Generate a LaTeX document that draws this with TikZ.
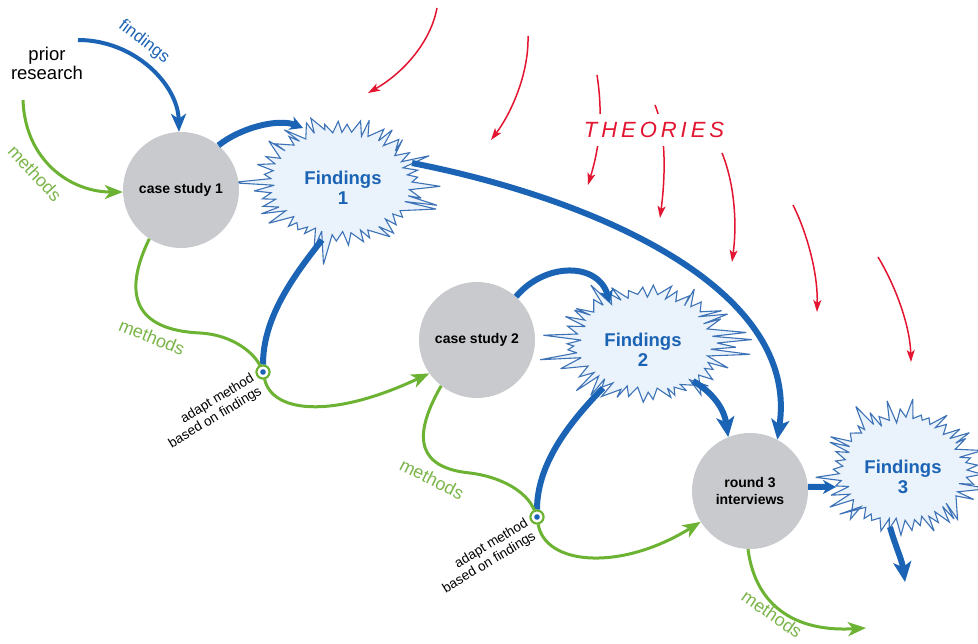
\documentclass[tikz,border=0pt]{standalone}
\usepackage{fontspec}
\setmainfont{Liberation Sans}
\usetikzlibrary{arrows.meta}

\definecolor{flowblue}{HTML}{1B63B4}
\definecolor{burstline}{HTML}{3D72B6}
\definecolor{burstfill}{HTML}{EAF3FB}
\definecolor{methgreen}{HTML}{6CB233}
\definecolor{labgreen}{HTML}{7BB54A}
\definecolor{theored}{HTML}{E2142F}
\definecolor{stagegray}{HTML}{C8CACD}

% spiky "findings" cloud: centre x, centre y, x radius, y radius, seed
\newcommand\drawburst[5]{%
  \pgfmathsetseed{#5}%
  \begin{scope}[shift={(#1,#2)}, xscale=#3/#4]
    \filldraw[burst] (0:#4)
      \foreach \k in {1,...,89} {
        -- ({\k*4+1.6*(rnd-0.5)}:{#4+mod(\k,2)*(3+30*rnd*rnd)-(1-mod(\k,2))*6*rnd}) }
      -- cycle;
  \end{scope}}

\tikzset{
  stage/.style={circle, fill=stagegray, minimum size=116pt, inner sep=0pt, align=center,
    font=\fontsize{14}{17}\selectfont\bfseries},
  findtext/.style={align=center, text=flowblue, font=\fontsize{18.5}{20}\selectfont\bfseries},
  burst/.style={fill=burstfill, draw=burstline, line width=1.1pt, line join=miter, miter limit=4},
  bigline/.style={draw=flowblue, line width=6pt},
  bigflow/.style={bigline, -{Stealth[length=20pt,width=18pt,inset=5pt]}},
  smallflow/.style={bigline, -{Stealth[length=13pt,width=14pt,inset=4pt]}},
  methline/.style={draw=methgreen, line width=3pt},
  methflow/.style={methline, -{Stealth[length=18pt,width=14pt,inset=5pt]}},
  theoflow/.style={draw=theored, line width=1.5pt, -{Stealth[length=12pt,width=8pt,inset=3pt]}},
  methlabel/.style={text=labgreen, font=\fontsize{18}{18}\selectfont, inner sep=0pt},
  adaptmark/.style={circle, draw=methgreen, line width=2pt, fill=white, minimum size=13pt, inner sep=0pt},
  adapttext/.style={align=right, font=\fontsize{13.5}{15}\selectfont, inner sep=0pt, rotate=31, anchor=east},
}

\begin{document}
\begin{tikzpicture}[x=1pt, y=-1pt]
\useasboundingbox (0,0) rectangle (978,644);

% findings clouds
\drawburst{340}{182}{72}{54}{7}
\drawburst{645}{343}{72}{50}{23}
\drawburst{903}{470}{64}{53}{41}

% stages
\node[stage] (cs1) at (181,190) {case study 1};
\node[stage] (cs2) at (477,340) {case study 2};
\node[stage] (r3) at (750,491) {round 3\\interviews};

\node[findtext] (F1) at (343,188) {Findings\\1};
\node[findtext] (F2) at (643,350) {Findings\\2};
\node[findtext] (F3) at (903,477) {Findings\\3};

% adaptation points
\node[adaptmark] (ad1) at (263,372) {};
\node[adaptmark] (ad2) at (537,517) {};

% free ends on the cloud outlines
\coordinate (F1l) at (303,128);
\coordinate (F1r) at (412,163);
\coordinate (F1b) at (322,240);
\coordinate (F2t) at (610,303);
\coordinate (F2r) at (693,381);
\coordinate (F2b) at (603,388);
\coordinate (F3l) at (836,487);
\coordinate (F3b) at (890,527);
\coordinate (F3out) at (905,582);
\coordinate (fstart) at (78,40);
\coordinate (mstart) at (23,100);
\coordinate (mend) at (866,628);

% prior research inputs
\node[align=center, font=\fontsize{18.5}{19}\selectfont] (prior) at (47,63) {prior\\research};
\draw[draw=flowblue, line width=4pt, -{Stealth[length=18pt,width=15pt,inset=5pt]}]
  (fstart) .. controls (135,40) and (178,85) .. (cs1.92);
\node[text=flowblue, font=\fontsize{17}{17}\selectfont, rotate=-37, inner sep=0pt] (flab) at (144,42) {findings};
\draw[methflow] (mstart) .. controls (25,160) and (70,192) .. (cs1.182);
\node[methlabel, rotate=-47] (ml1) at (35,173) {methods};

% round 1
\draw[smallflow] (cs1.50) .. controls (240,128) and (278,118) .. (F1l);
\draw[bigline] (F1b) .. controls (290,280) and (263,320) .. (ad1.north);
\draw[methline] (cs1.237) .. controls (122,295) and (135,330) .. (200,333)
  .. controls (235,335) and (255,355) .. (ad1);
\draw[methflow] (ad1) .. controls (272,412) and (330,420) .. (cs2.215);
\node[methlabel, rotate=-22] (ml2) at (152,337) {methods};
\draw[bigflow] (F1r) .. controls (600,200) and (800,290) .. (r3.62);

% round 2
\draw[smallflow] (cs2.48) .. controls (545,262) and (598,262) .. (F2t);
\draw[bigflow] (F2r) .. controls (712,392) and (724,408) .. (r3.112);
\draw[bigline] (F2b) .. controls (572,420) and (537,462) .. (ad2.north);
\draw[methline] (cs2.232) .. controls (410,440) and (420,468) .. (470,473)
  .. controls (502,477) and (527,492) .. (ad2);
\draw[methflow] (ad2) .. controls (545,565) and (620,572) .. (r3.212);
\node[methlabel, rotate=-27] (ml3) at (432,479) {methods};

% round 3
\draw[smallflow] (r3.4) -- (F3l);
\draw[bigflow] (F3b) .. controls (895,545) and (902,560) .. (F3out);
\draw[methflow] (r3.268) .. controls (756,610) and (800,632) .. (mend);
\node[methlabel, rotate=-35] (ml4) at (772,614) {methods};

% adaptation markers on top of the joining lines
\node[adaptmark] at (ad1) {};
\fill[flowblue] (ad1) circle (2.8);
\node[adaptmark] at (ad2) {};
\fill[flowblue] (ad2) circle (2.8);
\node[adapttext] (at1) at ([shift={(-6,12)}]ad1) {adapt method\\based on findings};
\node[adapttext] (at2) at ([shift={(-6,12)}]ad2) {adapt method\\based on findings};

% theories raining down
\coordinate (t1s) at (437,8);   \coordinate (t1e) at (368,93);
\coordinate (t2s) at (528,36);  \coordinate (t2e) at (491,140);
\coordinate (t3s) at (597,75);  \coordinate (t3e) at (588,185);
\coordinate (t4s) at (655,105); \coordinate (t4e) at (660,218);
\coordinate (t5s) at (722,153); \coordinate (t5e) at (732,262);
\coordinate (t6s) at (793,205); \coordinate (t6e) at (817,312);
\coordinate (t7s) at (878,257); \coordinate (t7e) at (911,362);
\draw[theoflow] (t1s) .. controls (430,45) and (400,75) .. (t1e);
\draw[theoflow] (t2s) .. controls (529,75) and (510,115) .. (t2e);
\draw[theoflow] (t3s) .. controls (604,120) and (598,152) .. (t3e);
\draw[theoflow] (t4s) .. controls (667,135) and (665,180) .. (t4e);
\draw[theoflow] (t5s) .. controls (735,185) and (737,225) .. (t5e);
\draw[theoflow] (t6s) .. controls (808,235) and (818,275) .. (t6e);
\draw[theoflow] (t7s) .. controls (895,285) and (910,325) .. (t7e);
\node[fill=white, inner xsep=2pt, inner ysep=8pt, text=theored,
  font=\fontsize{22}{22}\selectfont\itshape\addfontfeature{LetterSpace=18}] (theo) at (654,130) {THEORIES};
\end{tikzpicture}
\end{document}
